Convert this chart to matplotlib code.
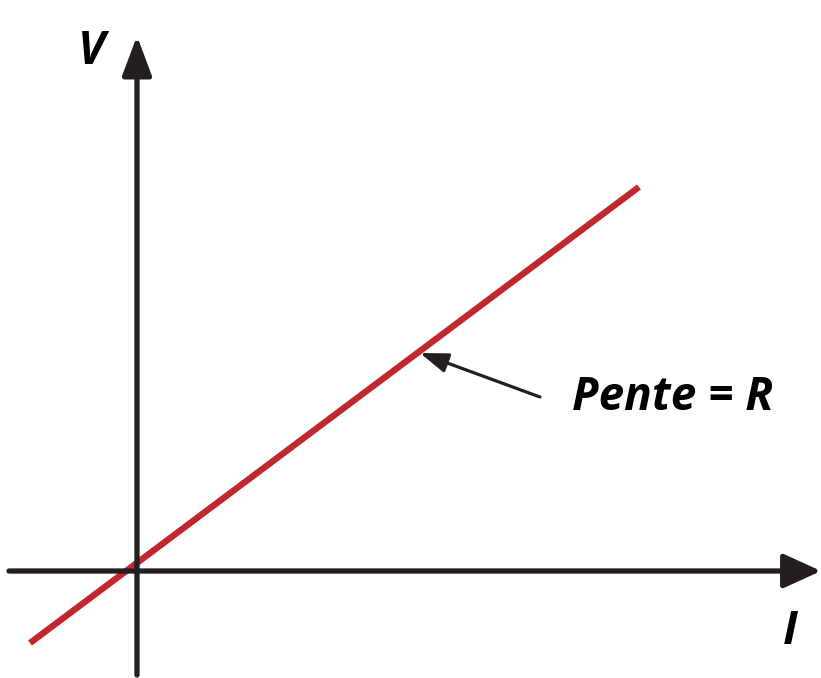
import matplotlib.pyplot as plt

# current / voltage (arbitrary units, origin at the axes crossing)
current = [-1.07, 5.02]
voltage = [-0.72, 3.84]

x_axis = [-1.28, 6.84]
y_axis = [-1.04, 5.35]

axis_color = '#231f20'
line_color = '#c1272d'

fig = plt.figure(figsize=(8.21, 6.78), dpi=100)
ax = fig.add_axes([0, 0, 1, 1])
ax.set_xlim(-1.37, 6.84)
ax.set_ylim(-1.07, 5.71)
ax.axis('off')

# axes with arrow heads
ax.annotate('', xy=(x_axis[1], 0), xytext=(x_axis[0], 0),
            arrowprops=dict(arrowstyle='-|>,head_length=23,head_width=10.5',
                            mutation_scale=1, lw=3.8, color=axis_color,
                            shrinkA=0, shrinkB=0))
ax.annotate('', xy=(0, y_axis[1]), xytext=(0, y_axis[0]),
            arrowprops=dict(arrowstyle='-|>,head_length=24,head_width=9',
                            mutation_scale=1, lw=3.8, color=axis_color,
                            shrinkA=0, shrinkB=0))

ax.plot(current, voltage, color=line_color, lw=4.6, solid_capstyle='butt')

font = dict(family='Open Sans', weight='bold', style='italic', color='black')
ax.text(-0.46, 5.19, 'V', fontsize=33, ha='center', va='center', **font)
ax.text(6.53, -0.61, 'I', fontsize=33, ha='center', va='center', **font)

ax.annotate('', xy=(2.83, 2.18), xytext=(4.03, 1.74),
            arrowprops=dict(arrowstyle='-|>,head_length=17,head_width=6',
                            mutation_scale=1, lw=2.3, color=axis_color,
                            shrinkA=0, shrinkB=0))
ax.text(4.35, 1.74, 'Pente = R', fontsize=33, ha='left', va='center', **font)

fig.savefig('out.png', dpi=100)
